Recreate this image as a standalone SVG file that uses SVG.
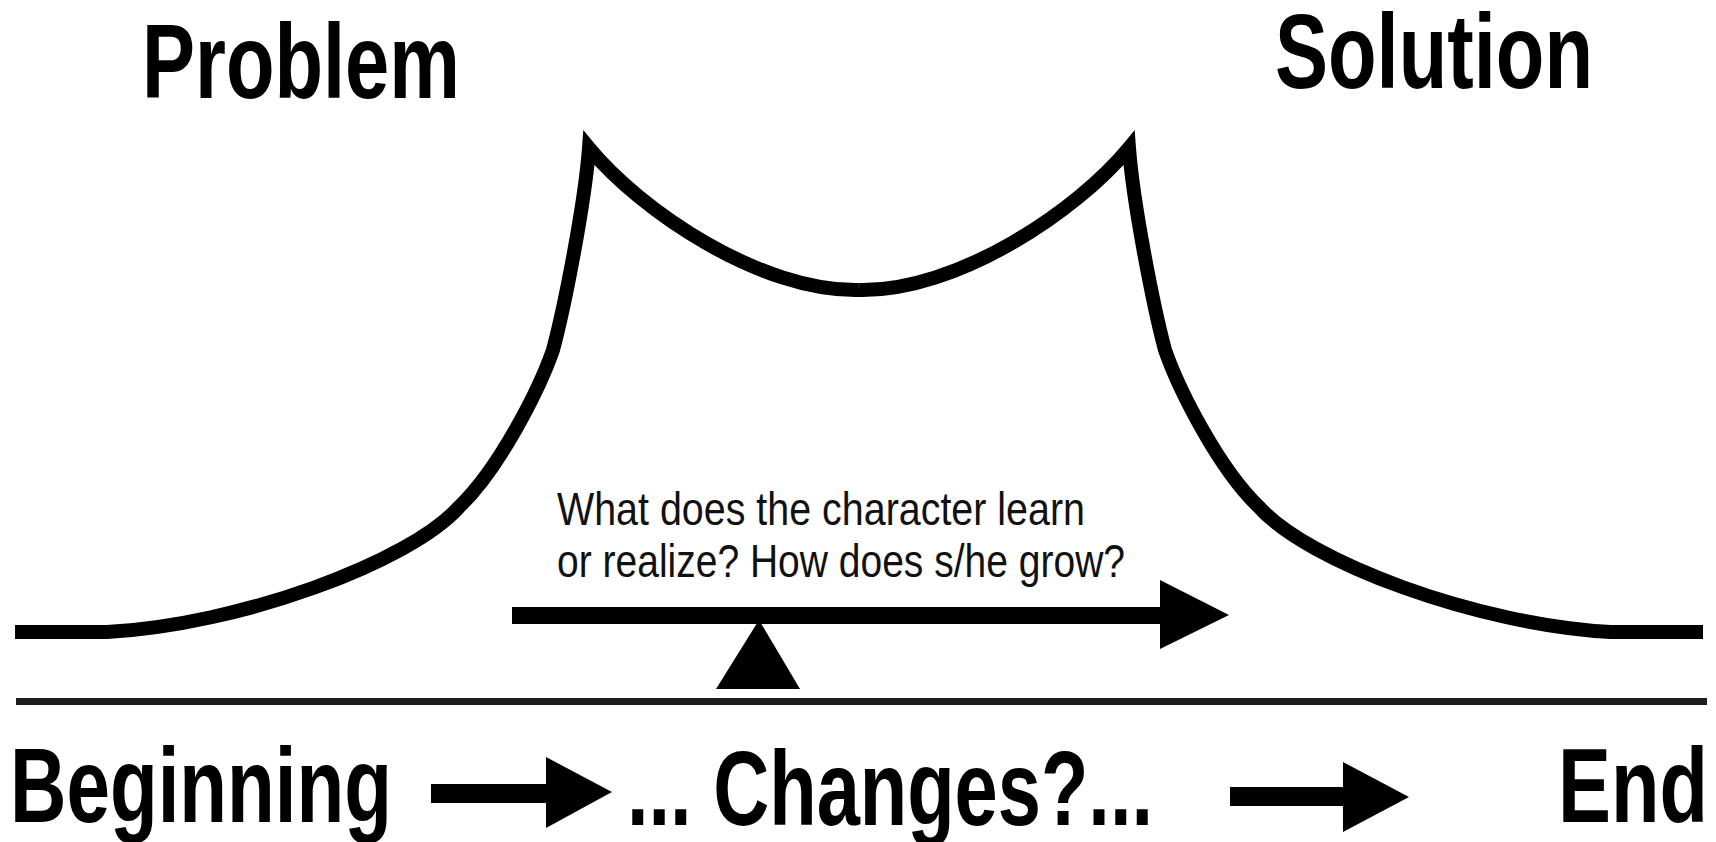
<svg xmlns="http://www.w3.org/2000/svg" xmlns:xlink="http://www.w3.org/1999/xlink" width="1716" height="842" viewBox="0 0 1716 842">
<style>
.big{font-family:"Liberation Sans",Arial,sans-serif;font-weight:bold;font-size:106px;fill:#000}
.small{font-family:"Liberation Sans",Arial,sans-serif;font-size:46px;fill:#111}
.curve{fill:none;stroke:#000;stroke-width:14;stroke-linejoin:miter;stroke-miterlimit:20}
.solid{fill:#000;stroke:none}
</style>
<defs>
<path id="half-curve" class="curve" d="M15,632 L107,632 C240,625 410,562 459,507 C499,469 539,390 553,350 C565,305 585,202 589,148 C640,210 760,292 859,290"/>
</defs>
<rect width="1716" height="842" fill="#fff"/>
<g id="plot-curve">
<use xlink:href="#half-curve" href="#half-curve"/>
<use xlink:href="#half-curve" href="#half-curve" transform="matrix(-1,0,0,1,1718,0)"/>
</g>
<g id="baseline">
<rect x="16" y="698" width="1691" height="7" fill="#1e1e1e"/>
</g>
<g id="label-problem"><text class="big" x="142" y="98" textLength="318" lengthAdjust="spacingAndGlyphs">Problem</text></g>
<g id="label-solution"><text class="big" x="1275" y="88" textLength="318" lengthAdjust="spacingAndGlyphs">Solution</text></g>
<g id="label-question">
<text class="small" x="557" y="525" textLength="528" lengthAdjust="spacingAndGlyphs">What does the character learn</text>
<text class="small" x="557" y="577" textLength="568" lengthAdjust="spacingAndGlyphs">or realize? How does s/he grow?</text>
</g>
<g id="fulcrum"><polygon class="solid" points="759,620 716,689 800,689"/></g>
<g id="label-beginning"><text class="big" x="10" y="822" textLength="382" lengthAdjust="spacingAndGlyphs">Beginning</text></g>
<g id="label-changes"><text class="big" x="627" y="825" textLength="526" lengthAdjust="spacingAndGlyphs">... Changes?...</text></g>
<g id="label-end"><text class="big" x="1558" y="822" textLength="150" lengthAdjust="spacingAndGlyphs">End</text></g>
<g id="connectors">
<rect class="solid" x="512" y="607" width="650" height="17"/>
<polygon class="solid" points="1160,580 1229,615 1160,649"/>
<rect class="solid" x="431" y="784" width="117" height="19"/>
<polygon class="solid" points="546,757 612,792 546,828"/>
<rect class="solid" x="1230" y="787" width="115" height="19"/>
<polygon class="solid" points="1343,762 1409,797 1343,832"/>
</g>
</svg>
